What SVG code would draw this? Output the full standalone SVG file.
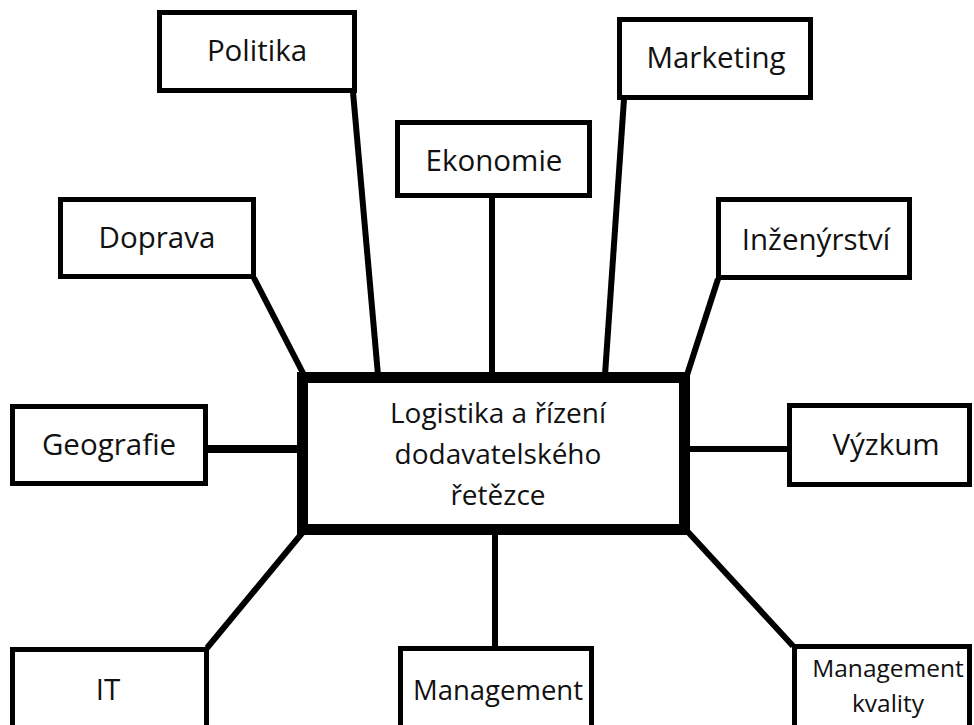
<svg xmlns="http://www.w3.org/2000/svg" width="974" height="725" viewBox="0 0 974 725">
  <style>
    .box { fill: #ffffff; stroke: #000000; stroke-width: 5; }
    .hub { fill: #ffffff; stroke: #000000; stroke-width: 11; }
    .lbl { font-family: "Open Sans", "Noto Sans", sans-serif; font-size: 29.5px; fill: #111111; text-anchor: middle; }
    .hubtxt { font-size: 28px; }
    .md { font-size: 27.5px; }
    .sm { font-size: 24.5px; }
    .link { stroke: #000000; stroke-width: 6; fill: none; }
  </style>
  <rect width="974" height="725" fill="#ffffff"/>

  <!-- spokes from the hub to each discipline -->
  <g id="connectors">
    <line class="link" x1="254" y1="278" x2="304" y2="375"/>
    <line class="link" x1="353" y1="92" x2="378" y2="375"/>
    <line class="link" x1="492" y1="198" x2="492" y2="375"/>
    <line class="link" x1="624" y1="99" x2="605" y2="375"/>
    <line class="link" x1="718" y1="279" x2="687" y2="375"/>
    <line class="link" x1="208" y1="449" x2="300" y2="449" style="stroke-width:8"/>
    <line class="link" x1="688" y1="449" x2="788" y2="449"/>
    <line class="link" x1="207" y1="648" x2="303" y2="532"/>
    <line class="link" x1="495" y1="532" x2="495" y2="647"/>
    <line class="link" x1="688" y1="532" x2="793" y2="646"/>
  </g>

  <g id="hub">
    <rect class="hub" x="302.5" y="377.5" width="382" height="152"/>
    <text class="lbl hubtxt" x="498" y="423">Logistika a řízení</text>
    <text class="lbl hubtxt" x="498" y="464">dodavatelského</text>
    <text class="lbl hubtxt" x="498" y="505">řetězce</text>
  </g>

  <g id="politika">
    <rect class="box" x="159.5" y="12.5" width="195" height="78"/>
    <text class="lbl" x="257" y="61">Politika</text>
  </g>

  <g id="ekonomie">
    <rect class="box" x="397.5" y="122.5" width="192" height="73"/>
    <text class="lbl" x="494" y="171">Ekonomie</text>
  </g>

  <g id="marketing">
    <rect class="box" x="619.5" y="19.5" width="191" height="78"/>
    <text class="lbl" x="716" y="68">Marketing</text>
  </g>

  <g id="doprava">
    <rect class="box" x="60.5" y="199.5" width="193" height="77"/>
    <text class="lbl" x="157" y="248">Doprava</text>
  </g>

  <g id="inzenyrstvi">
    <rect class="box" x="718.5" y="199.5" width="191" height="78"/>
    <text class="lbl" x="816" y="250">Inženýrství</text>
  </g>

  <g id="geografie">
    <rect class="box" x="12.5" y="406.5" width="193" height="77"/>
    <text class="lbl" x="109" y="455">Geografie</text>
  </g>

  <g id="vyzkum">
    <rect class="box" x="789.5" y="405.5" width="180" height="79"/>
    <text class="lbl" x="886" y="455">Výzkum</text>
  </g>

  <g id="it">
    <rect class="box" x="12.5" y="649.5" width="194" height="90"/>
    <text class="lbl" x="108" y="700">IT</text>
  </g>

  <g id="management">
    <rect class="box" x="400.5" y="648.5" width="191" height="90"/>
    <text class="lbl md" x="498" y="700">Management</text>
  </g>

  <g id="management-kvality">
    <rect class="box" x="794.5" y="646.5" width="175" height="90"/>
    <text class="lbl sm" x="888" y="677">Management</text>
    <text class="lbl sm" x="888" y="712">kvality</text>
  </g>
</svg>
